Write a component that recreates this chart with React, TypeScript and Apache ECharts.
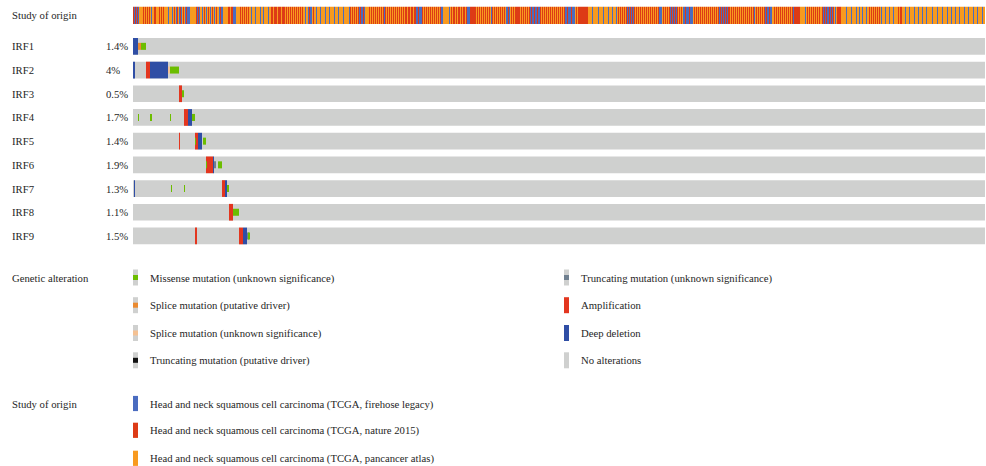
import React, { useEffect, useRef } from "react";
import * as echarts from "echarts";

// ---------- DATA ----------
const GENES = ["IRF1", "IRF2", "IRF3", "IRF4", "IRF5", "IRF6", "IRF7", "IRF8", "IRF9"];
const PERCENTS = ["1.4%", "4%", "0.5%", "1.7%", "1.4%", "1.9%", "1.3%", "1.1%", "1.5%"];

// study of origin per sample: B = firehose legacy, R = nature 2015, O = pancancer atlas
const STUDY_CHUNKS = [
  "RBRBRB", "OOOO", "RORORORO", "B", "OO", "RR", "OOO", "ROROR", "OOOO", "B", "OOO", "B",
  "O", "R", "O", "B", "R", "O", "B", "R", "B", "O", "R", "O", "BRBBB", "OOOOOO", "RBRB", "OO",
  "BOROBOROBOROBOR", "OO", "BRBB", "OOOOO", "RRORR", "BBB", "OOOO", "ROROROROR", "OO", "B",
  "OOO", "B", "OOOO", "B", "OO", "B", "OOOO", "B", "OO", "RRORRRORRRORR",
  "ROROROROROROROROROR", "OO", "B", "OO", "BRBB", "OR", "OO", "BOOO", "BOOOO", "BOOO",
  "BOOOO", "BOOO", "BOOOO", "BOOOOO", "B", "ROROROROR", "BRBBRB", "OOOO", "ROROROROROROROR",
  "B", "RORORORORORORORORORO", "RRORRORRORR", "BBRBBB", "ROROROROROROROROROR", "BB",
  "OOOOOO", "B", "O", "RORRORORRORORROR", "BBB", "RRRRR", "RORORORORORORORO", "B",
  "RORORORORORORO", "BBRB", "OROROR", "RRR", "ROROROROROR", "BRBBRBBRBB",
  "ROROROROROROROROROROROROR", "BBRBBBRBBB", "OROR", "RRRRRRRRR", "OOOO", "BOOOOO", "BOOOO",
  "BOOOO", "BOOO", "BOOO", "BO", "RORORORO", "RBRBRBRB", "ROROROROROROROROROROROROR", "BBB",
  "ORORORO", "RBRBRBRBR", "ORORO", "BBRBBBRBBB", "ORORORORORORORORORORORORO", "RBRBRBRBRBR",
  "ROROROROROROROROROROROROR", "B", "ORORORORO", "RBRBBRBB", "OO", "ROROROROROROROROROR", "B",
  "RRRRRR", "OOOOO", "BO", "ROROROROROROR", "OO", "RBRBRBBRBRBR", "OBO", "RRRR", "OOOOO",
  "BOOOO", "BOOOO", "BOO", "BOO", "BOOO", "BOO", "RORORORORORO", "BOOO", "BOOO", "BOOO",
  "BOOOO", "RORRO", "OO", "BOOO", "BOOOO", "BOOO", "BOOO", "BOOO", "BOOOOO", "BOOOO", "BOOOO",
  "BOOOO", "BOOO", "BOOO", "BOOO", "BOOOO", "BOOO", "BOOOO", "BOOO", "BOOOO", "BOO",
];
const STUDY_TRACK = STUDY_CHUNKS.join("");
const STUDY_CODES = ["B", "R", "O"];
const STUDY_LABELS = [
  "Head and neck squamous cell carcinoma (TCGA, firehose legacy)",
  "Head and neck squamous cell carcinoma (TCGA, nature 2015)",
  "Head and neck squamous cell carcinoma (TCGA, pancancer atlas)",
];

// alteration types
const ALT_TYPES = ["AMP", "DEL", "MIS", "SPLICE", "SPLICE_VUS", "TRUNC", "TRUNC_VUS"];
// per gene: [startSample, endSample, type]
const IRF1_ALT = [[0, 5, "DEL"], [5, 8, "SPLICE"], [8, 13, "MIS"]];
const IRF2_ALT = [[0, 2, "DEL"], [13, 17, "AMP"], [17, 35, "DEL"], [35, 37, "SPLICE_VUS"], [37, 46, "MIS"]];
const IRF3_ALT = [[46, 49, "AMP"], [49, 51, "MIS"]];
const IRF4_ALT = [[5, 6, "MIS"], [17, 19, "MIS"], [37, 38, "MIS"], [51, 55, "AMP"], [55, 59, "DEL"], [59, 62, "MIS"]];
const IRF5_ALT = [[46, 47, "AMP"], [62, 65, "AMP"], [62, 63, "MIS"], [65, 69, "DEL"], [70, 73, "MIS"]];
const IRF6_ALT = [[73, 80, "AMP"], [73, 74, "MIS"], [80, 81, "DEL"], [81, 83, "TRUNC_VUS"], [85, 89, "MIS"]];
const IRF7_ALT = [[1, 2, "DEL"], [38, 39, "MIS"], [51, 52, "MIS"], [89, 92, "AMP"], [92, 94, "DEL"], [94, 96, "MIS"]];
const IRF8_ALT = [[96, 100, "AMP"], [100, 106, "MIS"]];
const IRF9_ALT = [[62, 64, "AMP"], [106, 110, "AMP"], [110, 114, "DEL"], [114, 116, "TRUNC_VUS"], [115, 117, "MIS"]];
const GENE_ALTS = [IRF1_ALT, IRF2_ALT, IRF3_ALT, IRF4_ALT, IRF5_ALT, IRF6_ALT, IRF7_ALT, IRF8_ALT, IRF9_ALT];

const ALT_LEGEND_LEFT = [
  ["Missense mutation (unknown significance)", "MIS"],
  ["Splice mutation (putative driver)", "SPLICE"],
  ["Splice mutation (unknown significance)", "SPLICE_VUS"],
  ["Truncating mutation (putative driver)", "TRUNC"],
];
const ALT_LEGEND_RIGHT = [
  ["Truncating mutation (unknown significance)", "TRUNC_VUS"],
  ["Amplification", "AMP"],
  ["Deep deletion", "DEL"],
  ["No alterations", "NONE"],
];

// ---------- STYLE ----------
const FONT = "'Liberation Serif', 'DejaVu Serif', serif";
const TEXT_COLOR = "#262626";
const FS = 10.7;
const GRAY = "#cfd0cf";
const STUDY_COLORS: Record<string, string> = { B: "#4a6cc0", R: "#dd3b16", O: "#f89a1f" };
const ALT_COLORS: Record<string, string> = {
  AMP: "#e3361f",
  DEL: "#2f4ea5",
  MIS: "#6cbd00",
  SPLICE: "#ea8a30",
  SPLICE_VUS: "#f4c193",
  TRUNC: "#111111",
  TRUNC_VUS: "#6f7f8f",
  NONE: GRAY,
};
const FULL_TYPES = ["AMP", "DEL", "NONE"];
const BAR_FRAC = 16.7 / 23.7;
const MUT_FRAC = 0.42;

export default function App() {
  const ref = useRef<HTMLDivElement>(null);

  useEffect(() => {
    if (!ref.current) return;
    const chart = echarts.init(ref.current, undefined, { renderer: "svg" });
    const N = STUDY_TRACK.length;

    const studyData = STUDY_TRACK.split("").map((c, i) => [i, 0, STUDY_CODES.indexOf(c)]);
    const bgData = GENES.map((_, i) => [0, i, N]);
    const cnaData: number[][] = [];
    const mutData: number[][] = [];
    GENE_ALTS.forEach((alts, row) => {
      alts.forEach(([s, e, t]) => {
        const ti = ALT_TYPES.indexOf(t as string);
        const item = [s as number, row, e as number, ti];
        if (FULL_TYPES.includes(t as string)) cnaData.push(item);
        else mutData.push(item);
      });
    });

    const rowRect = (api: any, x0: number, x1: number, row: number, frac: number) => {
      const p0 = api.coord([x0, row]);
      const p1 = api.coord([x1, row]);
      const band = api.size([0, 1])[1];
      const h = band * BAR_FRAC * frac;
      return { x: p0[0], y: p0[1] - h / 2, width: p1[0] - p0[0], height: h };
    };

    const labelStyle = { fontFamily: FONT, fontSize: FS, color: TEXT_COLOR };

    // legend graphics
    const graphics: any[] = [];
    const addText = (x: number, y: number, text: string) =>
      graphics.push({
        type: "text",
        x,
        y,
        style: { text, font: `${FS}px ${FONT}`, fill: TEXT_COLOR, textVerticalAlign: "middle", textAlign: "left" },
      });
    const addSwatch = (x: number, yc: number, type: string, h: number) => {
      const full = FULL_TYPES.includes(type);
      graphics.push({
        type: "rect",
        shape: { x, y: yc - h / 2, width: 5, height: h },
        style: { fill: full ? ALT_COLORS[type] : GRAY },
      });
      if (!full) {
        graphics.push({
          type: "rect",
          shape: { x, y: yc - 2.5, width: 5, height: 5 },
          style: { fill: ALT_COLORS[type] },
        });
      }
    };
    const altRows = [277.5, 305.2, 333, 360.3];
    addText(12, altRows[0], "Genetic alteration");
    ALT_LEGEND_LEFT.forEach(([label, type], i) => {
      addSwatch(133, altRows[i], type, 16);
      addText(150, altRows[i], label);
    });
    ALT_LEGEND_RIGHT.forEach(([label, type], i) => {
      addSwatch(564, altRows[i], type, 16);
      addText(581, altRows[i], label);
    });
    const studyRows = [403.5, 430.3, 458.3];
    addText(12, studyRows[0], "Study of origin");
    STUDY_LABELS.forEach((label, i) => {
      graphics.push({
        type: "rect",
        shape: { x: 133, y: studyRows[i] - 7.6, width: 5, height: 15.2 },
        style: { fill: STUDY_COLORS[STUDY_CODES[i]] },
      });
      addText(150, studyRows[i], label);
    });

    chart.setOption({
      animation: false,
      backgroundColor: "#ffffff",
      grid: [
        { left: 133, top: 6.7, width: 852, height: 17.3 },
        { left: 133, top: 34.5, width: 852, height: 213.3 },
      ],
      xAxis: [
        { gridIndex: 0, type: "value", min: 0, max: N, show: false },
        { gridIndex: 1, type: "value", min: 0, max: N, show: false },
      ],
      yAxis: [
        {
          gridIndex: 0,
          type: "category",
          data: ["Study of origin"],
          axisLine: { show: false },
          axisTick: { show: false },
          axisLabel: { ...labelStyle, align: "left", margin: 121 },
        },
        {
          gridIndex: 1,
          type: "category",
          inverse: true,
          data: GENES,
          axisLine: { show: false },
          axisTick: { show: false },
          axisLabel: { ...labelStyle, align: "left", margin: 121 },
        },
        {
          gridIndex: 1,
          type: "category",
          inverse: true,
          position: "left",
          data: PERCENTS,
          axisLine: { show: false },
          axisTick: { show: false },
          axisLabel: { ...labelStyle, align: "left", margin: 27 },
        },
      ],
      series: [
        {
          type: "custom",
          xAxisIndex: 0,
          yAxisIndex: 0,
          data: studyData,
          renderItem: (params: any, api: any) => {
            const r = rowRect(api, api.value(0), api.value(0) + 1, 0, 1 / BAR_FRAC);
            return {
              type: "rect",
              shape: r,
              style: { fill: STUDY_COLORS[STUDY_CODES[api.value(2)]] },
            };
          },
        },
        {
          type: "custom",
          xAxisIndex: 1,
          yAxisIndex: 1,
          data: bgData,
          renderItem: (params: any, api: any) => ({
            type: "rect",
            shape: rowRect(api, api.value(0), api.value(2), api.value(1), 1),
            style: { fill: GRAY },
          }),
        },
        {
          type: "custom",
          xAxisIndex: 1,
          yAxisIndex: 1,
          data: cnaData,
          renderItem: (params: any, api: any) => ({
            type: "rect",
            shape: rowRect(api, api.value(0), api.value(2), api.value(1), 1),
            style: { fill: ALT_COLORS[ALT_TYPES[api.value(3)]] },
          }),
        },
        {
          type: "custom",
          xAxisIndex: 1,
          yAxisIndex: 1,
          data: mutData,
          renderItem: (params: any, api: any) => ({
            type: "rect",
            shape: rowRect(api, api.value(0), api.value(2), api.value(1), MUT_FRAC),
            style: { fill: ALT_COLORS[ALT_TYPES[api.value(3)]] },
          }),
        },
      ],
      graphic: graphics,
    });

    return () => chart.dispose();
  }, []);

  return (
    <div
      ref={ref}
      style={{ position: "fixed", left: 0, top: 0, width: 986, height: 466, background: "#fff" }}
    />
  );
}
